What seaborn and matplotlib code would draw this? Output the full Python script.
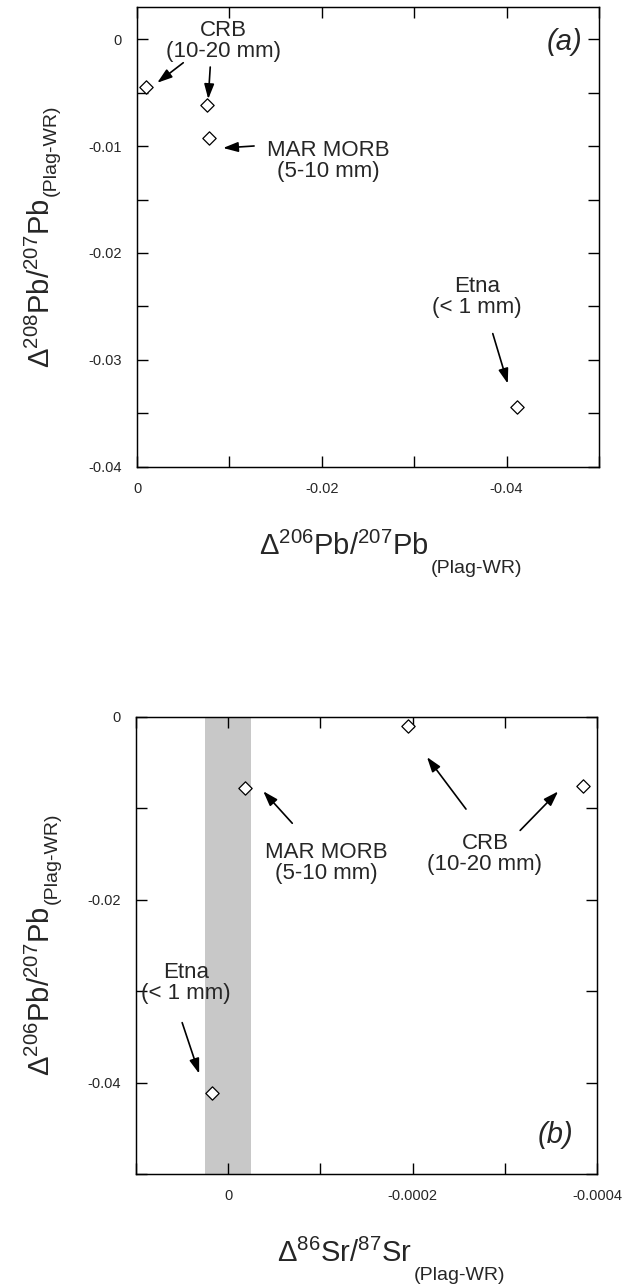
import matplotlib
matplotlib.use("Agg")
import matplotlib.pyplot as plt
from matplotlib.transforms import offset_copy
import seaborn as sns
import pandas as pd

# Plagioclase minus whole-rock isotope differences
samples = ["CRB", "CRB", "MAR MORB", "Etna"]
d206_207 = [-0.0010, -0.0076, -0.0078, -0.0411]      # Δ206Pb/207Pb
d208_207 = [-0.00446, -0.00617, -0.00925, -0.03436]  # Δ208Pb/207Pb
d86_87 = [-0.000195, -0.000385, -0.0000185, 0.0000174]  # Δ86Sr/87Sr
sr_band = (-0.000025, 0.000025)  # analytical uncertainty on Δ86Sr/87Sr

a_xticks = [0, -0.01, -0.02, -0.03, -0.04, -0.05]
a_xlabels = ["0", "", "-0.02", "", "-0.04", ""]
a_yticks = [0, -0.005, -0.01, -0.015, -0.02, -0.025, -0.03, -0.035, -0.04]
a_ylabels = ["0", "", "-0.01", "", "-0.02", "", "-0.03", "", "-0.04"]
b_xticks = [0.0001, 0, -0.0001, -0.0002, -0.0003, -0.0004]
b_xlabels = ["", "0", "", "-0.0002", "", "-0.0004"]
b_yticks = [0, -0.01, -0.02, -0.03, -0.04, -0.05]
b_ylabels = ["0", "", "-0.02", "", "-0.04", ""]

df = pd.DataFrame({"sample": samples, "d206": d206_207,
                   "d208": d208_207, "dsr": d86_87})

sns.set_style("ticks")
plt.rcParams["font.family"] = ["Liberation Sans", "DejaVu Sans"]
plt.rcParams["mathtext.fontset"] = "custom"
plt.rcParams["mathtext.rm"] = "Liberation Sans"
plt.rcParams["mathtext.it"] = "Liberation Sans:italic"
plt.rcParams["mathtext.bf"] = "Liberation Sans:bold"

fig = plt.figure(figsize=(6.32, 12.86), dpi=100)
ax1 = fig.add_axes([0.2168, 0.6369, 0.731, 0.3577])
ax2 = fig.add_axes([0.2152, 0.0871, 0.7294, 0.3554])

marker_kw = dict(marker="D", s=46, color="white", edgecolor="black",
                 linewidth=0.9, zorder=3, legend=False)

sns.scatterplot(data=df, x="d206", y="d208", ax=ax1, **marker_kw)
ax2.axvspan(*sr_band, color="#c8c8c8", lw=0, zorder=0)
sns.scatterplot(data=df, x="dsr", y="d206", ax=ax2, **marker_kw)

ax1.set_xlim(0, -0.05)
ax1.set_ylim(-0.04, 0.003)
ax2.set_xlim(0.0001, -0.0004)
ax2.set_ylim(-0.05, 0)

for ax, xt, xl, yt, yl in [(ax1, a_xticks, a_xlabels, a_yticks, a_ylabels),
                           (ax2, b_xticks, b_xlabels, b_yticks, b_ylabels)]:
    ax.set_xticks(xt)
    ax.set_xticklabels(xl)
    ax.set_yticks(yt)
    ax.set_yticklabels(yl)
    ax.tick_params(direction="in", length=8, width=1.0, top=True,
                   right=True, labelsize=10.5, pad=11, color="black")
    for sp in ax.spines.values():
        sp.set_linewidth(1.05)
        sp.set_color("black")
        sp.set_visible(True)

# axis titles: the isotope ratio, then a lowered "(Plag-WR)" subscript
SUB = "(Plag-WR)"
ax1.set_xlabel(r"$\Delta^{206}$Pb/$^{207}$Pb", fontsize=21)
ax1.set_ylabel(r"$\Delta^{208}$Pb/$^{207}$Pb", fontsize=21)
ax2.set_xlabel(r"$\Delta^{86}$Sr/$^{87}$Sr", fontsize=21)
ax2.set_ylabel(r"$\Delta^{206}$Pb/$^{207}$Pb", fontsize=21)
ax1.xaxis.set_label_coords(0.448, -0.141)
ax1.yaxis.set_label_coords(-0.175, 0.40)
ax2.xaxis.set_label_coords(0.452, -0.142)
ax2.yaxis.set_label_coords(-0.173, 0.40)

for ax in (ax1, ax2):
    ax.annotate(SUB, xy=(1, 0), xycoords=ax.xaxis.label, xytext=(2, 1),
                textcoords="offset pixels", ha="left", va="top", fontsize=14)
    ax.annotate(SUB, xy=(1, 1), xycoords=ax.yaxis.label, xytext=(-13, 2),
                textcoords="offset pixels", ha="left", va="top", fontsize=14,
                rotation=90, rotation_mode="anchor")

text_kw = dict(ha="center", va="center", fontsize=16, linespacing=1.0)
ax1.text(0.188, 0.926, "CRB\n(10-20 mm)", transform=ax1.transAxes, **text_kw)
ax1.text(0.413, 0.665, "MAR MORB\n(5-10 mm)", transform=ax1.transAxes, **text_kw)
ax1.text(0.736, 0.370, "Etna\n(< 1 mm)", transform=ax1.transAxes, **text_kw)
ax1.text(0.926, 0.924, "(a)", transform=ax1.transAxes, ha="center",
         va="center", fontsize=21, style="italic")

ax2.text(0.412, 0.681, "MAR MORB\n(5-10 mm)", transform=ax2.transAxes, **text_kw)
ax2.text(0.757, 0.700, "CRB\n(10-20 mm)", transform=ax2.transAxes, **text_kw)
ax2.text(0.108, 0.418, "Etna\n(< 1 mm)", transform=ax2.transAxes, **text_kw)
ax2.text(0.909, 0.085, "(b)", transform=ax2.transAxes, ha="center",
         va="center", fontsize=21, style="italic")

arrow_kw = dict(arrowstyle="-|>,head_length=0.9,head_width=0.3",
                color="black", lw=1.2, shrinkA=0, shrinkB=0)


def pointer(ax, x, y, head, tail):
    """Arrow whose head sits `head` pixels from a data point, drawn from
    `tail` pixels further away."""
    tr = offset_copy(ax.transData, fig=fig, x=head[0], y=head[1], units="dots")
    ax.annotate("", xy=(x, y), xycoords=tr, xytext=tail,
                textcoords="offset pixels", arrowprops=arrow_kw)


# panel (a)
pointer(ax1, d206_207[0], d208_207[0], (11, 4), (26, 20))
pointer(ax1, d206_207[1], d208_207[1], (1, 6), (2, 32))
pointer(ax1, d206_207[2], d208_207[2], (14, -10), (31, 2))
pointer(ax1, d206_207[3], d208_207[3], (-9, 23), (-15, 50))
# panel (b)
pointer(ax2, d86_87[0], d206_207[0], (19, -31), (39, -52))
pointer(ax2, d86_87[1], d206_207[1], (-25, -5), (-38, -39))
pointer(ax2, d86_87[2], d206_207[2], (18, -3), (29, -32))
pointer(ax2, d86_87[3], d206_207[3], (-13, 19), (-17, 51))

fig.savefig("out.png", dpi=100, facecolor="white")
